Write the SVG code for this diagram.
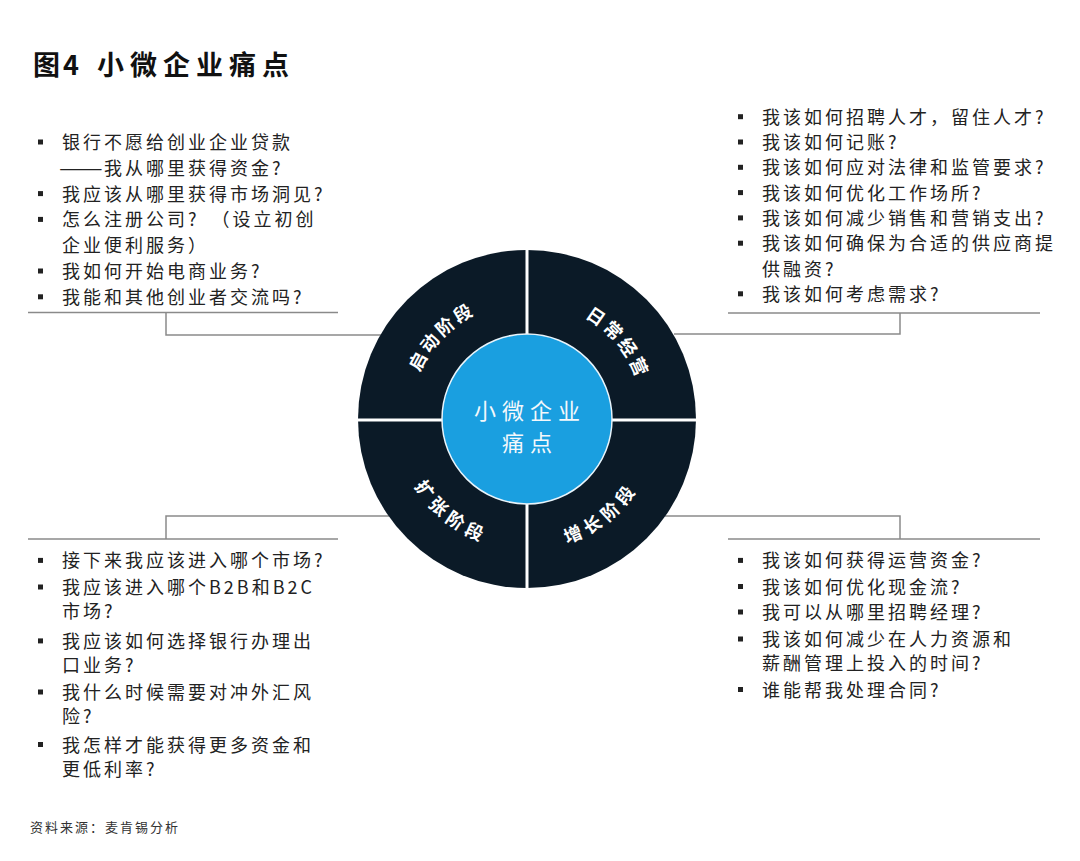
<svg xmlns="http://www.w3.org/2000/svg" width="1080" height="861" viewBox="0 0 1080 861">
<defs>
<style>
.t{font-family:"Noto Sans CJK SC","Liberation Sans",sans-serif;font-size:18px;letter-spacing:3px;fill:#222}
.b{fill:#222}
.conn{fill:none;stroke:#8a8a8a;stroke-width:1.5}
.stage{font-family:"Noto Sans CJK SC",sans-serif;font-size:18px;font-weight:700;fill:#fff}
.ctr{font-family:"Noto Sans CJK SC",sans-serif;font-size:22px;letter-spacing:6px;fill:#f4f8fb}
</style>
<path id="topArc" d="M410,419 A117,117 0 0 1 644,419"/>
<path id="botArc" d="M396,419 A131,131 0 0 0 658,419"/>
</defs>
<rect width="1080" height="861" fill="#fff"/>
<g id="title">
<text x="33" y="75" font-family="Noto Sans CJK SC, sans-serif" font-size="27" font-weight="700" fill="#111">图<tspan dx="3">4</tspan></text>
<text x="97" y="75" font-family="Noto Sans CJK SC, sans-serif" font-size="27" font-weight="700" letter-spacing="6" fill="#111">小微企业痛点</text>
</g>
<g id="connectors">
<path class="conn" d="M28,312.5 H338 M166,312.5 V335 H381"/>
<path class="conn" d="M728,313 H1040 M900,313 V334 H674"/>
<path class="conn" d="M28,539 H338 M166,539 V516 H389"/>
<path class="conn" d="M728,539 H1040 M900,539 V516 H665"/>
</g>
<g id="wheel">
<circle cx="527" cy="419" r="169" fill="#0b1a27"/>
<line x1="527" y1="248" x2="527" y2="590" stroke="#fff" stroke-width="3"/>
<line x1="356" y1="420" x2="698" y2="420" stroke="#fff" stroke-width="3"/>
</g>
<g id="stage-start"><text class="stage" letter-spacing="3"><textPath href="#topArc" startOffset="24.4%" text-anchor="middle">启动阶段</textPath></text></g>
<g id="stage-daily"><text class="stage" letter-spacing="3"><textPath href="#topArc" startOffset="77.8%" text-anchor="middle">日常经营</textPath></text></g>
<g id="stage-expand"><text class="stage" letter-spacing="5"><textPath href="#botArc" startOffset="28.3%" text-anchor="middle">扩张阶段</textPath></text></g>
<g id="stage-growth"><text class="stage" letter-spacing="5"><textPath href="#botArc" startOffset="71.1%" text-anchor="middle">增长阶段</textPath></text></g>
<g id="center">
<circle cx="527" cy="419" r="85" fill="#1a9fe0" stroke="#e8f4fb" stroke-width="1.5"/>
<text class="ctr" x="530" y="419" text-anchor="middle">小微企业</text>
<text class="ctr" x="530" y="451" text-anchor="middle">痛点</text>
</g>
<g id="list-start">
<rect class="b" x="38" y="139.5" width="5" height="5"/>
<text class="t" x="62" y="149">银行不愿给创业企业贷款</text>
<text class="t" transform="translate(59,174.8) scale(1.45,1)" letter-spacing="0">——</text>
<text class="t" x="104" y="174.8">我从哪里获得资金?</text>
<rect class="b" x="38" y="191.1" width="5" height="5"/>
<text class="t" x="62" y="200.6">我应该从哪里获得市场洞见?</text>
<rect class="b" x="38" y="216.9" width="5" height="5"/>
<text class="t" x="62" y="226.4">怎么注册公司?<tspan dx="12">（设立初创</tspan></text>
<text class="t" x="62" y="252.2">企业便利服务）</text>
<rect class="b" x="38" y="268.5" width="5" height="5"/>
<text class="t" x="62" y="278">我如何开始电商业务?</text>
<rect class="b" x="38" y="294.3" width="5" height="5"/>
<text class="t" x="62" y="303.8">我能和其他创业者交流吗?</text>
</g>
<g id="list-daily">
<rect class="b" x="738" y="114.2" width="5" height="5"/>
<text class="t" x="762" y="123.7">我该如何招聘人才，留住人才?</text>
<rect class="b" x="738" y="139.5" width="5" height="5"/>
<text class="t" x="762" y="149">我该如何记账?</text>
<rect class="b" x="738" y="164.8" width="5" height="5"/>
<text class="t" x="762" y="174.3">我该如何应对法律和监管要求?</text>
<rect class="b" x="738" y="190.1" width="5" height="5"/>
<text class="t" x="762" y="199.6">我该如何优化工作场所?</text>
<rect class="b" x="738" y="215.4" width="5" height="5"/>
<text class="t" x="762" y="224.9">我该如何减少销售和营销支出?</text>
<rect class="b" x="738" y="240.7" width="5" height="5"/>
<text class="t" x="762" y="250.2">我该如何确保为合适的供应商提</text>
<text class="t" x="762" y="275.5">供融资?</text>
<rect class="b" x="738" y="291.3" width="5" height="5"/>
<text class="t" x="762" y="300.8">我该如何考虑需求?</text>
</g>
<g id="list-expand">
<rect class="b" x="38" y="557.9" width="5" height="5"/>
<text class="t" x="62" y="567.4">接下来我应该进入哪个市场?</text>
<rect class="b" x="38" y="584.5" width="5" height="5"/>
<text class="t" x="62" y="594">我应该进入哪个B2B和B2C</text>
<text class="t" x="62" y="618.4">市场?</text>
<rect class="b" x="38" y="638.4" width="5" height="5"/>
<text class="t" x="62" y="647.9">我应该如何选择银行办理出</text>
<text class="t" x="62" y="671.5">口业务?</text>
<rect class="b" x="38" y="689.5" width="5" height="5"/>
<text class="t" x="62" y="699">我什么时候需要对冲外汇风</text>
<text class="t" x="62" y="722.9">险?</text>
<rect class="b" x="38" y="742" width="5" height="5"/>
<text class="t" x="62" y="751.5">我怎样才能获得更多资金和</text>
<text class="t" x="62" y="775.5">更低利率?</text>
</g>
<g id="list-growth">
<rect class="b" x="738" y="557.9" width="5" height="5"/>
<text class="t" x="762" y="567.4">我该如何获得运营资金?</text>
<rect class="b" x="738" y="584" width="5" height="5"/>
<text class="t" x="762" y="593.5">我该如何优化现金流?</text>
<rect class="b" x="738" y="609.5" width="5" height="5"/>
<text class="t" x="762" y="619">我可以从哪里招聘经理?</text>
<rect class="b" x="738" y="636.5" width="5" height="5"/>
<text class="t" x="762" y="646">我该如何减少在人力资源和</text>
<text class="t" x="762" y="669.5">薪酬管理上投入的时间?</text>
<rect class="b" x="738" y="687" width="5" height="5"/>
<text class="t" x="762" y="696.5">谁能帮我处理合同?</text>
</g>
<g id="source">
<text x="30" y="832" font-family="Noto Sans CJK SC, sans-serif" font-size="13" letter-spacing="2" fill="#333">资料来源：麦肯锡分析</text>
</g>
</svg>
